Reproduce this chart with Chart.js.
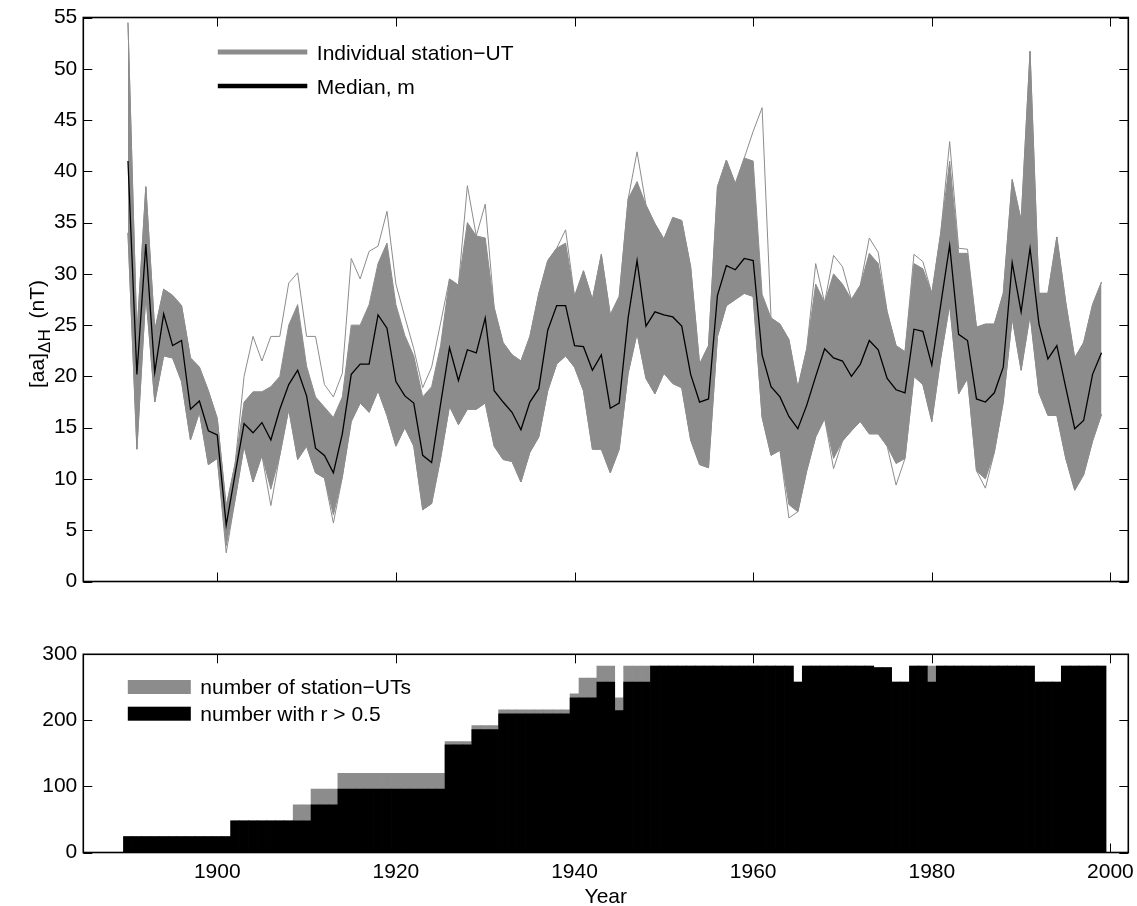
<!DOCTYPE html>
<html>
<head>
<meta charset="utf-8">
<title>[aa]ΔH station-UT series</title>
<script src="https://cdn.jsdelivr.net/npm/chart.js@4.4.1/dist/chart.umd.min.js"></script>
<style>
  body { margin: 0; background: #fff; }
  #wrap { position: relative; width: 1137px; height: 906px; }
  canvas { position: absolute; left: 0; }
  #topChart { top: 0; }
  #bottomChart { top: 630px; }
</style>
</head>
<body>
<div id="wrap">
  <canvas id="topChart" width="1137" height="665"></canvas>
  <canvas id="bottomChart" width="1137" height="276"></canvas>
</div>
<script>
// years of the annual means
const years = [
  1890, 1891, 1892, 1893, 1894, 1895, 1896, 1897, 1898, 1899,
  1900, 1901, 1902, 1903, 1904, 1905, 1906, 1907, 1908, 1909,
  1910, 1911, 1912, 1913, 1914, 1915, 1916, 1917, 1918, 1919,
  1920, 1921, 1922, 1923, 1924, 1925, 1926, 1927, 1928, 1929,
  1930, 1931, 1932, 1933, 1934, 1935, 1936, 1937, 1938, 1939,
  1940, 1941, 1942, 1943, 1944, 1945, 1946, 1947, 1948, 1949,
  1950, 1951, 1952, 1953, 1954, 1955, 1956, 1957, 1958, 1959,
  1960, 1961, 1962, 1963, 1964, 1965, 1966, 1967, 1968, 1969,
  1970, 1971, 1972, 1973, 1974, 1975, 1976, 1977, 1978, 1979,
  1980, 1981, 1982, 1983, 1984, 1985, 1986, 1987, 1988, 1989,
  1990, 1991, 1992, 1993, 1994, 1995, 1996, 1997, 1998, 1999
];

// median m of all station-UT series (nT)
const median = [
  41.0, 20.2, 32.9, 20.4, 26.1, 23.0, 23.5, 16.8, 17.6, 14.7,
  14.3, 5.5, 10.5, 15.4, 14.5, 15.5, 13.8, 16.8, 19.2, 20.6,
  18.1, 13.0, 12.3, 10.6, 14.4, 20.2, 21.2, 21.2, 26.0, 24.7,
  19.5, 18.1, 17.4, 12.3, 11.6, 17.3, 22.8, 19.6, 22.6, 22.3,
  25.7, 18.6, 17.5, 16.5, 14.8, 17.5, 18.8, 24.5, 26.9, 26.9,
  23.0, 22.9, 20.6, 22.1, 16.9, 17.4, 25.7, 31.3, 24.9, 26.3,
  26.0, 25.8, 24.9, 20.2, 17.5, 17.8, 27.9, 30.8, 30.4, 31.5,
  31.3, 22.1, 19.0, 18.0, 16.1, 14.9, 17.2, 20.0, 22.7, 21.8,
  21.5, 20.0, 21.2, 23.5, 22.6, 19.8, 18.7, 18.4, 24.6, 24.4,
  21.1, 27.0, 32.8, 24.1, 23.5, 17.8, 17.5, 18.4, 20.9, 31.1,
  26.3, 32.5, 25.1, 21.7, 23.0, 18.9, 14.9, 15.7, 20.2, 22.3
];

// highest individual station-UT value each year (outlying lines)
const stationMax = [
  54.5, 24.0, 38.5, 24.5, 28.5, 27.9, 26.9, 21.8, 20.9, 18.6,
  15.9, 7.3, 11.5, 20.0, 23.9, 21.5, 23.9, 23.9, 29.1, 30.1,
  23.9, 23.9, 19.2, 18.0, 20.3, 31.5, 29.5, 32.2, 32.7, 36.1,
  29.0, 25.8, 22.7, 18.9, 20.9, 25.2, 29.5, 28.9, 38.6, 33.7,
  36.8, 26.7, 23.3, 22.1, 21.5, 23.9, 28.1, 31.3, 32.5, 34.3,
  27.8, 30.3, 27.5, 31.9, 26.0, 27.8, 37.3, 41.9, 36.7, 34.9,
  33.4, 35.5, 35.2, 30.7, 21.2, 23.0, 38.5, 41.1, 38.8, 41.3,
  43.9, 46.2, 25.7, 25.1, 23.6, 18.9, 22.7, 31.0, 27.2, 31.8,
  30.7, 27.5, 28.9, 33.5, 32.1, 26.3, 23.0, 22.4, 31.9, 31.2,
  28.1, 34.0, 42.9, 32.5, 32.4, 24.8, 25.1, 25.1, 28.1, 39.2,
  35.2, 51.7, 28.1, 28.1, 33.6, 27.2, 21.8, 23.3, 27.0, 29.2
];

// lowest individual station-UT value each year
const stationMin = [
  34.0, 12.9, 28.0, 17.5, 22.0, 21.8, 19.5, 13.8, 16.5, 11.4,
  12.0, 2.8, 8.0, 13.2, 9.7, 12.3, 7.4, 12.3, 16.8, 11.9,
  13.2, 10.6, 10.1, 5.7, 10.2, 15.6, 17.4, 16.5, 18.6, 16.2,
  13.2, 15.0, 13.2, 7.0, 7.6, 12.0, 17.1, 15.3, 16.8, 16.8,
  17.4, 13.2, 11.9, 11.7, 9.7, 12.6, 14.1, 18.6, 21.2, 22.0,
  20.9, 18.6, 12.9, 12.9, 10.6, 12.9, 20.3, 24.2, 19.8, 18.3,
  20.3, 19.3, 18.9, 13.8, 11.4, 11.1, 23.9, 26.9, 27.5, 28.1,
  27.8, 16.0, 12.3, 12.8, 6.2, 6.8, 10.8, 14.1, 15.9, 11.0,
  13.7, 14.7, 15.6, 14.4, 14.4, 13.2, 9.4, 12.0, 20.0, 19.2,
  15.6, 21.8, 27.0, 18.3, 19.8, 10.8, 9.1, 12.6, 17.5, 25.7,
  20.6, 26.0, 18.4, 16.2, 16.2, 12.0, 8.9, 10.4, 13.7, 16.3
];

// dense bundle of station-UT lines: upper and lower edge
const bundleHigh = [
  54.5, 24.0, 38.5, 24.5, 28.5, 27.9, 26.9, 21.8, 20.9, 18.6,
  15.9, 7.3, 11.5, 17.5, 18.5, 18.5, 19.0, 20.0, 25.0, 27.0,
  21.0, 18.0, 17.0, 16.0, 18.0, 25.0, 25.0, 27.0, 31.0, 33.0,
  27.0, 24.0, 22.0, 18.0, 19.0, 23.0, 29.5, 28.9, 35.0, 33.7,
  33.5, 26.7, 23.3, 22.1, 21.5, 23.9, 28.1, 31.3, 32.5, 33.0,
  27.8, 30.3, 27.5, 31.9, 26.0, 27.8, 37.3, 39.0, 36.7, 34.9,
  33.4, 35.5, 35.2, 30.7, 21.2, 23.0, 38.5, 41.1, 38.8, 41.3,
  41.0, 28.0, 25.7, 25.1, 23.6, 18.9, 22.7, 29.0, 27.2, 30.0,
  29.0, 27.5, 28.9, 32.0, 31.0, 26.3, 23.0, 22.4, 31.0, 30.5,
  28.1, 34.0, 41.0, 32.0, 32.0, 24.8, 25.1, 25.1, 28.1, 39.2,
  35.2, 51.7, 28.1, 28.1, 33.6, 27.2, 21.8, 23.3, 27.0, 29.2
];
const bundleLow = [
  34.0, 12.9, 28.0, 17.5, 22.0, 21.8, 19.5, 13.8, 16.5, 11.4,
  12.0, 3.5, 8.0, 13.2, 9.7, 12.3, 9.0, 12.3, 16.8, 11.9,
  13.2, 10.6, 10.1, 6.5, 10.2, 15.6, 17.4, 16.5, 18.6, 16.2,
  13.2, 15.0, 13.2, 7.0, 7.6, 12.0, 17.1, 15.3, 16.8, 16.8,
  17.4, 13.2, 11.9, 11.7, 9.7, 12.6, 14.1, 18.6, 21.2, 22.0,
  20.9, 18.6, 12.9, 12.9, 10.6, 12.9, 20.3, 24.2, 19.8, 18.3,
  20.3, 19.3, 18.9, 13.8, 11.4, 11.1, 23.9, 26.9, 27.5, 28.1,
  27.8, 16.0, 12.3, 12.8, 7.5, 6.8, 10.8, 14.1, 15.9, 12.0,
  13.7, 14.7, 15.6, 14.4, 14.4, 13.2, 11.5, 12.0, 20.0, 19.2,
  15.6, 21.8, 27.0, 18.3, 19.8, 10.8, 10.0, 12.6, 17.5, 25.7,
  20.6, 26.0, 18.4, 16.2, 16.2, 12.0, 8.9, 10.4, 13.7, 16.3
];

// lower panel: number of station-UTs, and number with r > 0.5
const nStationUT = [
  24, 24, 24, 24, 24, 24, 24, 24, 24, 24,
  24, 24, 48, 48, 48, 48, 48, 48, 48, 72,
  72, 96, 96, 96, 120, 120, 120, 120, 120, 120,
  120, 120, 120, 120, 120, 120, 168, 168, 168, 192,
  192, 192, 216, 216, 216, 216, 216, 216, 216, 216,
  240, 264, 264, 282, 282, 234, 282, 282, 282, 282,
  282, 282, 282, 282, 282, 282, 282, 282, 282, 282,
  282, 282, 282, 282, 282, 258, 282, 282, 282, 282,
  282, 282, 282, 282, 280, 280, 258, 258, 282, 282,
  282, 282, 282, 282, 282, 282, 282, 282, 282, 282,
  282, 282, 258, 258, 258, 282, 282, 282, 282, 282
];
const nGoodR = [
  24, 24, 24, 24, 24, 24, 24, 24, 24, 24,
  24, 24, 48, 48, 48, 48, 48, 48, 48, 48,
  48, 72, 72, 72, 96, 96, 96, 96, 96, 96,
  96, 96, 96, 96, 96, 96, 163, 163, 163, 186,
  186, 186, 210, 210, 210, 210, 210, 210, 210, 210,
  234, 234, 234, 258, 258, 215, 258, 258, 258, 282,
  282, 282, 282, 282, 282, 282, 282, 282, 282, 282,
  282, 282, 282, 282, 282, 258, 282, 282, 282, 282,
  282, 282, 282, 282, 280, 280, 258, 258, 282, 282,
  258, 282, 282, 282, 282, 282, 282, 282, 282, 282,
  282, 282, 258, 258, 258, 282, 282, 282, 282, 282
];

const xTicks = [1900, 1920, 1940, 1960, 1980, 2000];
const yTicksTop = [0, 5, 10, 15, 20, 25, 30, 35, 40, 45, 50, 55];
const yTicksBottom = [0, 100, 200, 300];

const X_MIN = 1885, X_MAX = 2002;
const GRAY = '#8c8c8c';
const FONT = "'Liberation Sans', Arial, Helvetica, sans-serif";
const TICK = 9;

Chart.defaults.font.family = FONT;
Chart.defaults.font.size = 21;
Chart.defaults.color = '#000';

const pts = arr => years.map((yr, i) => ({ x: yr, y: arr[i] }));

// box round the plot area with inward ticks on all four sides
const boxTicks = {
    id: 'boxTicks',
    afterDatasetsDraw(chart) {
        const { ctx, chartArea: a, scales } = chart;
        ctx.save();
        ctx.strokeStyle = '#000';
        ctx.lineWidth = 1;
        ctx.beginPath();
        scales.x.ticks.forEach(t => {
            const px = Math.round(scales.x.getPixelForValue(t.value)) + 0.5;
            ctx.moveTo(px, a.bottom); ctx.lineTo(px, a.bottom - TICK);
            ctx.moveTo(px, a.top); ctx.lineTo(px, a.top + TICK);
        });
        scales.y.ticks.forEach(t => {
            const py = Math.round(scales.y.getPixelForValue(t.value)) + 0.5;
            ctx.moveTo(a.left, py); ctx.lineTo(a.left + TICK, py);
            ctx.moveTo(a.right, py); ctx.lineTo(a.right - TICK, py);
        });
        ctx.stroke();
        ctx.lineWidth = 1.6;
        ctx.strokeRect(a.left, a.top, a.right - a.left, a.bottom - a.top);
        ctx.restore();
    }
};

// legend lines and rotated y title of the upper panel
const topDecor = {
    id: 'topDecor',
    afterDraw(chart) {
        const { ctx, chartArea: a } = chart;
        ctx.save();
        const lx = a.left + 134.5;
        ctx.lineCap = 'butt';
        ctx.strokeStyle = GRAY; ctx.lineWidth = 5;
        ctx.beginPath(); ctx.moveTo(lx, a.top + 34.5); ctx.lineTo(lx + 89.5, a.top + 34.5); ctx.stroke();
        ctx.strokeStyle = '#000'; ctx.lineWidth = 4.5;
        ctx.beginPath(); ctx.moveTo(lx, a.top + 68.5); ctx.lineTo(lx + 89.5, a.top + 68.5); ctx.stroke();
        ctx.fillStyle = '#000';
        ctx.font = '21px ' + FONT;
        ctx.textBaseline = 'alphabetic';
        ctx.fillText('Individual station\u2212UT', lx + 99, a.top + 42.5);
        ctx.fillText('Median, m', lx + 99, a.top + 76);

        // [aa] with subscript ΔH, then (nT)
        const main = '21px ' + FONT, sub = '17px ' + FONT;
        ctx.font = main; const w1 = ctx.measureText('[aa]').width;
        ctx.font = sub; const w2 = ctx.measureText('\u0394H').width;
        ctx.font = main; const w3 = ctx.measureText(' (nT)').width;
        const gap = 5;
        ctx.translate(44, 334);
        ctx.rotate(-Math.PI / 2);
        let x = -(w1 + w2 + gap + w3) / 2;
        ctx.font = main; ctx.fillText('[aa]', x, 0); x += w1;
        ctx.font = sub; ctx.fillText('\u0394H', x, 6); x += w2 + gap;
        ctx.font = main; ctx.fillText(' (nT)', x, 0);
        ctx.restore();
    }
};

// legend boxes of the lower panel
const bottomDecor = {
    id: 'bottomDecor',
    afterDraw(chart) {
        const { ctx, chartArea: a } = chart;
        ctx.save();
        const lx = a.left + 44.5;
        ctx.fillStyle = GRAY;
        ctx.fillRect(lx, a.top + 25.7, 63, 14);
        ctx.fillStyle = '#000';
        ctx.fillRect(lx, a.top + 52.4, 63, 14);
        ctx.font = '21px ' + FONT;
        ctx.textBaseline = 'alphabetic';
        ctx.fillText('number of station\u2212UTs', lx + 72.5, a.top + 39.7);
        ctx.fillText('number with r > 0.5', lx + 72.5, a.top + 66.5);
        ctx.restore();
    }
};

function yAxis(min, max, tickList) {
    return {
        min: min, max: max,
        grid: { display: false, drawTicks: false },
        border: { display: false },
        afterBuildTicks: s => { s.ticks = tickList.map(v => ({ value: v })); },
        ticks: { padding: 6, callback: v => String(v) },
        afterFit: s => { s.width = 83.3; s.paddingTop = 0; s.paddingBottom = 0; }
    };
}

function xAxis(show) {
    return {
        type: 'linear', min: X_MIN, max: X_MAX,
        offset: false,
        display: show,
        grid: { display: false, drawTicks: false, offset: false },
        border: { display: false },
        afterBuildTicks: s => { s.ticks = xTicks.map(v => ({ value: v })); },
        ticks: { padding: 7, maxRotation: 0, autoSkip: false, callback: v => String(v) },
        title: { display: show, text: 'Year', font: { size: 21, lineHeight: 1 }, padding: { top: 0, bottom: -2 } },
        afterFit: s => { s.height = 53.5; s.paddingLeft = 0; s.paddingRight = 0; }
    };
}

const common = {
    responsive: false,
    animation: false,
    devicePixelRatio: 1,
    events: [],
    plugins: { legend: { display: false }, tooltip: { enabled: false } }
};

new Chart(document.getElementById('topChart'), {
    type: 'line',
    data: {
        datasets: [
            { label: 'Median, m', data: pts(median), borderColor: '#000', borderWidth: 1.3, pointRadius: 0, fill: false, order: 0 },
            { label: 'max', data: pts(stationMax), borderColor: GRAY, borderWidth: 1, pointRadius: 0, fill: false, order: 1 },
            { label: 'min', data: pts(stationMin), borderColor: GRAY, borderWidth: 1, pointRadius: 0, fill: false, order: 2 },
            { label: 'Individual station-UT', data: pts(bundleHigh), borderColor: GRAY, borderWidth: 1, pointRadius: 0, backgroundColor: GRAY, fill: '+1', order: 3 },
            { label: 'bundle low', data: pts(bundleLow), borderColor: GRAY, borderWidth: 1, pointRadius: 0, fill: false, order: 4 }
        ]
    },
    options: Object.assign({}, common, {
        layout: { padding: { left: 0, right: 8.7, top: 17.5, bottom: 30 } },
        scales: { x: xAxis(false), y: yAxis(0, 55, yTicksTop) }
    }),
    plugins: [boxTicks, topDecor]
});

new Chart(document.getElementById('bottomChart'), {
    type: 'bar',
    data: {
        datasets: [
            { label: 'number with r > 0.5', data: pts(nGoodR), backgroundColor: '#000', order: 1 },
            { label: 'number of station-UTs', data: pts(nStationUT), backgroundColor: GRAY, order: 2 }
        ]
    },
    options: Object.assign({}, common, {
        datasets: { bar: { grouped: false, barPercentage: 1, categoryPercentage: 1, borderWidth: 0 } },
        layout: { padding: { left: 0, right: 8.7, top: 24.3, bottom: 0 } },
        scales: { x: xAxis(true), y: yAxis(0, 300, yTicksBottom) }
    }),
    plugins: [boxTicks, bottomDecor]
});
</script>
</body>
</html>
